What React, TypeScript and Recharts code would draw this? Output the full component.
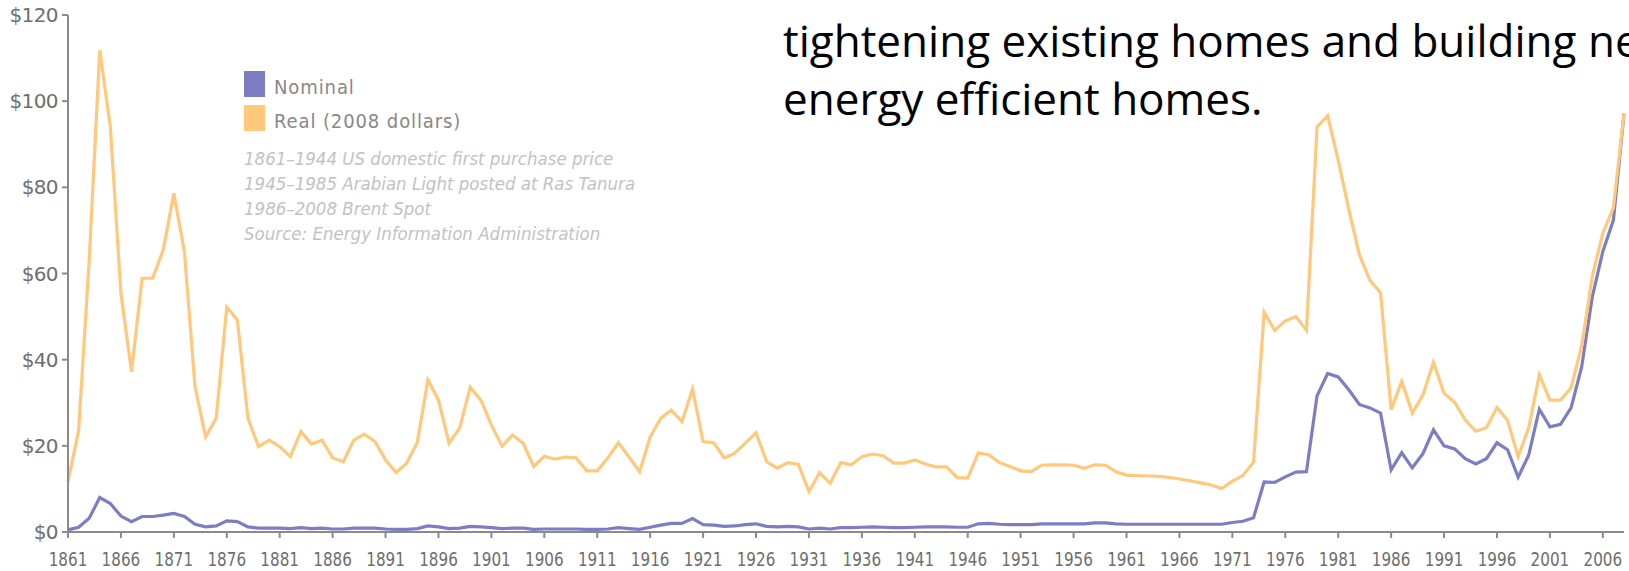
import { CartesianGrid, Legend, Line, LineChart, XAxis, YAxis } from 'recharts'

const FIRST_YEAR = 1861

// Real (2008 dollars), one value per year 1861–2008
const realPrice = [
  11.7, 23.5, 63, 111.8, 94, 55.4, 37.2, 58.9, 58.9, 65.5,
  78.6, 65, 33.7, 22.1, 26.4, 52.2, 49.2, 26.4, 19.8, 21.3,
  19.8, 17.5, 23.3, 20.4, 21.3, 17.2, 16.3, 21.3, 22.7, 21.0,
  16.7, 13.8, 16.0, 20.8, 35.3, 30.6, 20.6, 24.1, 33.6, 30.6,
  24.8, 19.9, 22.5, 20.6, 15.2, 17.6, 16.9, 17.4, 17.2, 14.2,
  14.2, 17.2, 20.7, 17.4, 14.0, 22.1, 26.4, 28.3, 25.6, 33.2,
  21.0, 20.7, 17.2, 18.3, 20.7, 23.0, 16.3, 14.8, 16.1, 15.7,
  9.4, 13.8, 11.3, 16.1, 15.6, 17.5, 18.1, 17.7, 16.0, 16.0,
  16.7, 15.8, 15.1, 15.1, 12.6, 12.5, 18.4, 17.9, 16.1, 15.2,
  14.2, 14.0, 15.5, 15.6, 15.6, 15.5, 14.8, 15.6, 15.5, 14.0,
  13.2, 13.1, 13.0, 12.9, 12.7, 12.3, 11.9, 11.4, 10.9, 10.1,
  11.8, 13.1, 16.2, 51, 46.8, 49, 50, 46.8, 94, 96.6,
  86.3, 74.9, 64.3, 58.4, 55.5, 28.4, 35, 27.6, 31.8, 39.4,
  32.2, 30.1, 26, 23.4, 24.2, 28.9, 25.9, 17.5, 24.2, 36.5,
  30.6, 30.6, 33.5, 43.2, 59.3, 69.4, 75.3, 97.1,
]

// Nominal (money of the day)
const nominalPrice = [
  0.5, 1.1, 3.2, 8.0, 6.6, 3.7, 2.4, 3.6, 3.6, 3.9,
  4.3, 3.6, 1.8, 1.2, 1.4, 2.6, 2.4, 1.2, 0.9, 0.9,
  0.9, 0.8, 1.0, 0.8, 0.9, 0.7, 0.7, 0.9, 0.9, 0.9,
  0.7, 0.6, 0.6, 0.8, 1.4, 1.2, 0.8, 0.9, 1.3, 1.2,
  1.0, 0.8, 0.9, 0.9, 0.6, 0.7, 0.7, 0.7, 0.7, 0.6,
  0.6, 0.7, 1.0, 0.8, 0.6, 1.1, 1.6, 2.0, 2.0, 3.1,
  1.7, 1.6, 1.3, 1.4, 1.7, 1.9, 1.3, 1.2, 1.3, 1.2,
  0.7, 0.9, 0.7, 1.0, 1.0, 1.1, 1.2, 1.1, 1.0, 1.0,
  1.1, 1.2, 1.2, 1.2, 1.1, 1.1, 1.9, 2.0, 1.8, 1.7,
  1.7, 1.7, 1.9, 1.9, 1.9, 1.9, 1.9, 2.1, 2.1, 1.9,
  1.8, 1.8, 1.8, 1.8, 1.8, 1.8, 1.8, 1.8, 1.8, 1.8,
  2.2, 2.5, 3.3, 11.6, 11.5, 12.8, 13.9, 14.0, 31.6, 36.8,
  36.0, 33.0, 29.6, 28.8, 27.6, 14.4, 18.4, 14.9, 18.2, 23.7,
  20.0, 19.3, 17.0, 15.8, 17.0, 20.7, 19.1, 12.7, 17.9, 28.5,
  24.4, 25.0, 28.8, 38.3, 54.5, 65.1, 72.4, 97.1,
]

const yearTicks = [
  1861, 1866, 1871, 1876, 1881, 1886, 1891, 1896, 1901, 1906,
  1911, 1916, 1921, 1926, 1931, 1936, 1941, 1946, 1951, 1956,
  1961, 1966, 1971, 1976, 1981, 1986, 1991, 1996, 2001, 2006,
]
const priceTicks = [0, 20, 40, 60, 80, 100, 120]

const notes = [
  '1861–1944 US domestic first purchase price',
  '1945–1985 Arabian Light posted at Ras Tanura',
  '1986–2008 Brent Spot',
  'Source: Energy Information Administration',
]

const slideLines = [
  'tightening existing homes and building new',
  'energy efficient homes.',
]

const data = realPrice.map((real, i) => ({
  year: FIRST_YEAR + i,
  nominal: nominalPrice[i],
  real,
}))

const NOMINAL = '#7d7dc4'
const REAL = '#ffc87a'
const AXIS = '#8a8a8a'
const LABEL = '#6e6e6e'
const FONT = '"DejaVu Sans Condensed", "DejaVu Sans", sans-serif'

// year labels are squeezed horizontally in the original
function YearTick({ x, y, payload }: any) {
  return (
    <g transform={`translate(${x},${y}) scale(0.76,1)`}>
      <text x={0} y={0} dy="0.71em" textAnchor="middle" fill={LABEL} fontSize={20} fontFamily='"DejaVu Sans", sans-serif'>
        {payload.value}
      </text>
    </g>
  )
}

function ChartLegend({ payload }: any) {
  return (
    <div style={{ fontFamily: FONT, textAlign: 'left' }}>
      {(payload || []).map((p: any) => (
        <div key={p.value} style={{ display: 'flex', alignItems: 'center', height: 34 }}>
          <div style={{ width: 21, height: 26, background: p.color, marginRight: 9 }} />
          <span style={{ fontSize: 20, letterSpacing: 0.9, color: '#888', marginTop: 5 }}>{p.value}</span>
        </div>
      ))}
      <div style={{ marginTop: 11 }}>
        {notes.map((n) => (
          <div
            key={n}
            style={{ fontSize: 18.5, lineHeight: '25px', fontStyle: 'italic', color: '#c2c2c2', whiteSpace: 'nowrap' }}
          >
            {n}
          </div>
        ))}
      </div>
    </div>
  )
}

export default function App() {
  return (
    <div
      style={{
        position: 'fixed',
        left: 0,
        top: 0,
        width: 1629,
        height: 571,
        overflow: 'hidden',
        background: '#fff',
      }}
    >
      <LineChart width={1629} height={571} data={data} margin={{ top: 15, right: 5, bottom: 0, left: 0 }}>
        <CartesianGrid stroke="none" />
        <XAxis
          dataKey="year"
          type="number"
          domain={[1861, 2008]}
          ticks={yearTicks}
          interval={0}
          height={39}
          stroke={AXIS}
          strokeWidth={2}
          tickSize={6}
          tickMargin={14}
          tick={<YearTick />}
        />
        <YAxis
          domain={[0, 120]}
          ticks={priceTicks}
          width={68}
          stroke={AXIS}
          strokeWidth={2}
          tickSize={6}
          tickMargin={4}
          tickFormatter={(v) => `$${v}`}
          tick={{ fill: LABEL, fontSize: 20, fontFamily: '"DejaVu Sans", sans-serif', letterSpacing: -0.6 }}
        />
        <Legend
          layout="vertical"
          verticalAlign="middle"
          align="center"
          content={<ChartLegend />}
          wrapperStyle={{ left: 244, top: 67, width: 'auto' }}
        />
        <Line
          type="linear"
          dataKey="nominal"
          name="Nominal"
          stroke={NOMINAL}
          strokeWidth={3.2}
          dot={false}
          isAnimationActive={false}
        />
        <Line
          type="linear"
          dataKey="real"
          name="Real (2008 dollars)"
          stroke={REAL}
          strokeWidth={3.2}
          dot={false}
          isAnimationActive={false}
        />
      </LineChart>
      {slideLines.map((t, i) => (
        <div
          key={t}
          style={{
            position: 'absolute',
            left: 783,
            top: 11 + i * 58,
            fontFamily: '"Open Sans", sans-serif',
            fontSize: 44,
            lineHeight: '58px',
            color: '#000',
            whiteSpace: 'nowrap',
          }}
        >
          {t}
        </div>
      ))}
    </div>
  )
}
